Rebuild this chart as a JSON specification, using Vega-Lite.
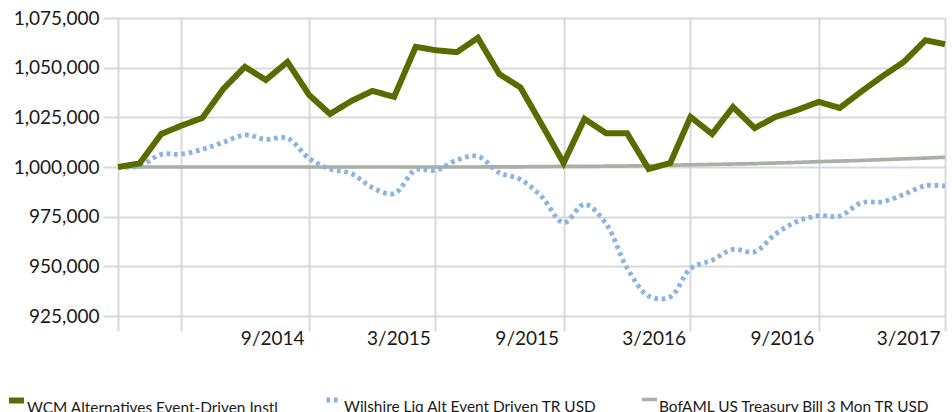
{
  "$schema": "https://vega.github.io/schema/vega-lite/v6.json",
  "width": 827,
  "height": 298,
  "autosize": {"type": "none"},
  "padding": {"left": 118, "top": 18, "right": 7, "bottom": 96},
  "background": "#ffffff",
  "config": {
    "view": {"stroke": null},
    "font": "Lato",
    "axis": {"labelFont": "Lato", "labelColor": "#1a1a1a", "titleFont": "Lato"},
    "legend": {"labelFont": "Lato", "labelColor": "#1a1a1a"}
  },
  "data": {
    "values": [
      {"date": "2013-12-01", "wcm": 1000000, "wil": 1000000, "tb": 1000000},
      {"date": "2014-01-01", "wcm": 1001800, "wil": 1000500, "tb": 1000000},
      {"date": "2014-02-01", "wcm": 1016600, "wil": 1006400, "tb": 1000000},
      {"date": "2014-03-01", "wcm": 1020700, "wil": 1006400, "tb": 1000000},
      {"date": "2014-04-01", "wcm": 1024700, "wil": 1008900, "tb": 1000000},
      {"date": "2014-05-01", "wcm": 1039300, "wil": 1012400, "tb": 1000000},
      {"date": "2014-06-01", "wcm": 1050400, "wil": 1016100, "tb": 1000000},
      {"date": "2014-07-01", "wcm": 1043800, "wil": 1013900, "tb": 1000000},
      {"date": "2014-08-01", "wcm": 1052900, "wil": 1014500, "tb": 1000000},
      {"date": "2014-09-01", "wcm": 1036300, "wil": 1004300, "tb": 1000000},
      {"date": "2014-10-01", "wcm": 1026700, "wil": 999000, "tb": 1000000},
      {"date": "2014-11-01", "wcm": 1033300, "wil": 996600, "tb": 1000000},
      {"date": "2014-12-01", "wcm": 1038300, "wil": 989600, "tb": 1000000},
      {"date": "2015-01-01", "wcm": 1035300, "wil": 986600, "tb": 1000000},
      {"date": "2015-02-01", "wcm": 1060500, "wil": 998600, "tb": 1000000},
      {"date": "2015-03-01", "wcm": 1058800, "wil": 998300, "tb": 1000000},
      {"date": "2015-04-01", "wcm": 1057800, "wil": 1003500, "tb": 1000000},
      {"date": "2015-05-01", "wcm": 1065000, "wil": 1005400, "tb": 1000000},
      {"date": "2015-06-01", "wcm": 1046700, "wil": 997100, "tb": 1000100},
      {"date": "2015-07-01", "wcm": 1040100, "wil": 993800, "tb": 1000100},
      {"date": "2015-08-01", "wcm": 1021200, "wil": 984900, "tb": 1000200},
      {"date": "2015-09-01", "wcm": 1002000, "wil": 971900, "tb": 1000300},
      {"date": "2015-10-01", "wcm": 1024200, "wil": 981200, "tb": 1000300},
      {"date": "2015-11-01", "wcm": 1017000, "wil": 971400, "tb": 1000400},
      {"date": "2015-12-01", "wcm": 1017000, "wil": 949200, "tb": 1000500},
      {"date": "2016-01-01", "wcm": 999000, "wil": 935000, "tb": 1000700},
      {"date": "2016-02-01", "wcm": 1002000, "wil": 934600, "tb": 1000900},
      {"date": "2016-03-01", "wcm": 1025200, "wil": 948900, "tb": 1001100},
      {"date": "2016-04-01", "wcm": 1016600, "wil": 953100, "tb": 1001300},
      {"date": "2016-05-01", "wcm": 1030200, "wil": 958500, "tb": 1001500},
      {"date": "2016-06-01", "wcm": 1019600, "wil": 957300, "tb": 1001700},
      {"date": "2016-07-01", "wcm": 1025200, "wil": 966300, "tb": 1002000},
      {"date": "2016-08-01", "wcm": 1028700, "wil": 972600, "tb": 1002300},
      {"date": "2016-09-01", "wcm": 1032800, "wil": 975500, "tb": 1002700},
      {"date": "2016-10-01", "wcm": 1029700, "wil": 975300, "tb": 1003000},
      {"date": "2016-11-01", "wcm": 1038000, "wil": 982000, "tb": 1003300},
      {"date": "2016-12-01", "wcm": 1045600, "wil": 982500, "tb": 1003700},
      {"date": "2017-01-01", "wcm": 1052900, "wil": 986200, "tb": 1004100},
      {"date": "2017-02-01", "wcm": 1063800, "wil": 990600, "tb": 1004500},
      {"date": "2017-03-01", "wcm": 1061800, "wil": 990400, "tb": 1004900}
    ]
  },
  "transform": [
    {"fold": ["tb", "wil", "wcm"], "as": ["key", "value"]},
    {"lookup": "key", "from": {"data": {"values": [
      {"key": "wcm", "series": "WCM Alternatives Event-Driven Instl"},
      {"key": "wil", "series": "Wilshire Liq Alt Event Driven TR USD"},
      {"key": "tb", "series": "BofAML US Treasury Bill 3 Mon TR USD"}
    ]}, "key": "key", "fields": ["series"]}}
  ],
  "encoding": {
    "x": {
      "field": "date",
      "type": "temporal",
      "scale": {"type": "utc", "domain": [{"year": 2013, "month": 12, "date": 1, "utc": true}, {"year": 2017, "month": 3, "date": 1, "utc": true}], "nice": false},
      "axis": {
        "title": null,
        "values": [
          {"year": 2013, "month": 12, "date": 1, "utc": true},
          {"year": 2014, "month": 3, "date": 1, "utc": true},
          {"year": 2014, "month": 9, "date": 1, "utc": true},
          {"year": 2015, "month": 3, "date": 1, "utc": true},
          {"year": 2015, "month": 9, "date": 1, "utc": true},
          {"year": 2016, "month": 3, "date": 1, "utc": true},
          {"year": 2016, "month": 9, "date": 1, "utc": true},
          {"year": 2017, "month": 3, "date": 1, "utc": true}
        ],
        "labelExpr": "utcyear(datum.value) == 2013 || (utcyear(datum.value) == 2014 && utcmonth(datum.value) == 2) ? '' : utcFormat(datum.value, '%-m/%Y')",
        "domain": false,
        "grid": true,
        "gridColor": "#d9d9d9",
        "gridWidth": 2,
        "tickColor": "#d9d9d9",
        "tickWidth": 2,
        "tickSize": 15,
        "labelAlign": "right",
        "labelOffset": -5,
        "labelPadding": -2,
        "labelFontSize": 19,
        "labelFlush": false,
        "labelOverlap": false
      }
    },
    "y": {
      "field": "value",
      "type": "quantitative",
      "scale": {"domain": [925000, 1075000], "zero": false, "nice": false},
      "axis": {
        "title": null,
        "values": [925000, 950000, 975000, 1000000, 1025000, 1050000, 1075000],
        "format": ",d",
        "domain": false,
        "grid": true,
        "gridColor": "#d9d9d9",
        "gridWidth": 2,
        "tickColor": "#d9d9d9",
        "tickWidth": 2,
        "tickSize": 15,
        "labelPadding": 4,
        "labelFontSize": 19
      }
    },
    "color": {
      "field": "series",
      "type": "nominal",
      "scale": {
        "domain": ["WCM Alternatives Event-Driven Instl", "Wilshire Liq Alt Event Driven TR USD", "BofAML US Treasury Bill 3 Mon TR USD"],
        "range": ["#5b6b00", "#8db3e2", "#a9b0a4"]
      },
      "legend": {
        "title": null,
        "orient": "none",
        "direction": "horizontal",
        "legendX": -112,
        "legendY": 372,
        "symbolType": "stroke",
        "symbolSize": 225,
        "labelFontSize": 15.4,
        "labelBaseline": "top",
        "labelOffset": 0,
        "columnPadding": 37,
        "gridAlign": "none",
        "labelLimit": 400
      }
    },
    "strokeDash": {
      "field": "series",
      "type": "nominal",
      "scale": {
        "domain": ["WCM Alternatives Event-Driven Instl", "Wilshire Liq Alt Event Driven TR USD", "BofAML US Treasury Bill 3 Mon TR USD"],
        "range": [[1, 0], [3.7, 3.7], [1, 0]]
      },
      "legend": null
    },
    "strokeWidth": {
      "field": "series",
      "type": "nominal",
      "scale": {
        "domain": ["WCM Alternatives Event-Driven Instl", "Wilshire Liq Alt Event Driven TR USD", "BofAML US Treasury Bill 3 Mon TR USD"],
        "range": [6, 3.7, 1.8]
      },
      "legend": null
    }
  },
  "layer": [
    {"transform": [{"filter": "datum.key == 'tb'"}], "mark": {"type": "line", "strokeCap": "butt", "strokeJoin": "round"}},
    {"transform": [{"filter": "datum.key == 'wil'"}], "mark": {"type": "line", "interpolate": "catmull-rom", "strokeCap": "butt"}},
    {"transform": [{"filter": "datum.key == 'wcm'"}], "mark": {"type": "line", "strokeCap": "butt", "strokeJoin": "miter"}}
  ]
}
